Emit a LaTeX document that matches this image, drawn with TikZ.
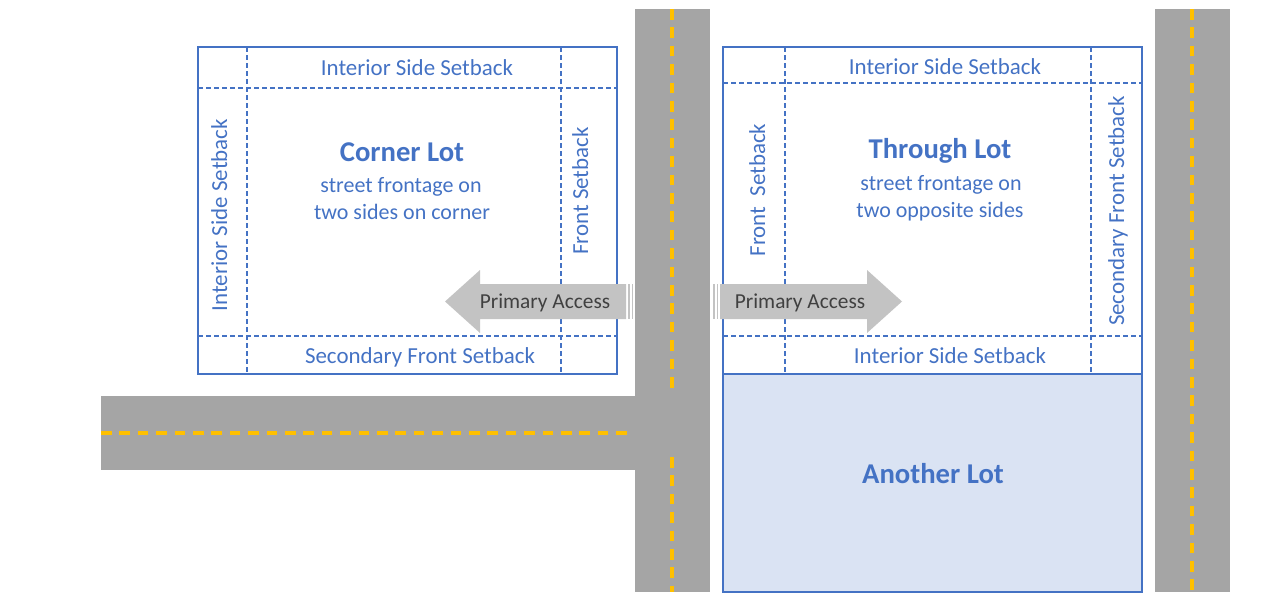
\documentclass[tikz,border=0pt]{standalone}
\usepackage{fontspec}
\setmainfont{Carlito}
\definecolor{lotblue}{HTML}{4472C4}
\definecolor{lotfill}{HTML}{DAE3F3}
\definecolor{roadgray}{HTML}{A5A5A5}
\definecolor{laneyellow}{HTML}{FFC000}
\definecolor{accessgray}{HTML}{C3C3C3}
\definecolor{accesstext}{HTML}{404040}
\begin{document}
\begin{tikzpicture}[x=0.75pt,y=-0.75pt,
    road/.style={fill=roadgray},
    lane/.style={draw=laneyellow,line width=2.3pt,dash pattern=on 8pt off 5.8pt},
    lot/.style={draw=lotblue,line width=2pt},
    setback/.style={draw=lotblue,line width=0.8pt,dash pattern=on 3.6pt off 2.4pt},
    lottext/.style={text=lotblue,inner sep=0pt,anchor=base,font=\fontsize{16.5}{20}\selectfont},
    setbacktext/.style={lottext,font=\fontsize{17.2}{20}\selectfont},
    lotname/.style={lottext,font=\fontsize{21.5}{26}\selectfont\bfseries},
    access/.style={fill=accessgray},
    accesslabel/.style={text=accesstext,inner sep=0pt,anchor=base,font=\fontsize{16}{19}\selectfont}]
  \useasboundingbox (0,0) rectangle (1261,603);
  \fill[road] (635,9) rectangle (710,592);
  \fill[road] (101,396) rectangle (635,470);
  \fill[road] (1155,9) rectangle (1230,592);
  \draw[lane] (672,9) -- (672,395);
  \draw[lane] (672,457) -- (672,592);
  \draw[lane] (101,433) -- (628,433);
  \draw[lane] (1192,9) -- (1192,592);

  \draw[setback] (247,47) -- (247,374);
  \draw[setback] (561,47) -- (561,374);
  \draw[setback] (198,88) -- (617,88);
  \draw[setback] (198,336) -- (617,336);
  \draw[lot] (198,47) rectangle (617,374);

  \draw[setback] (785,47) -- (785,374);
  \draw[setback] (1091,47) -- (1091,374);
  \draw[setback] (723,83) -- (1142,83);
  \draw[setback] (723,336) -- (1142,336);
  \draw[lot,fill=lotfill] (723,374) rectangle (1142,592);
  \draw[lot] (723,47) rectangle (1142,374);

  \node[setbacktext] (cornerTop) at (417,75) {Interior Side Setback};
  \node[setbacktext] (cornerBottom) at (420,363) {Secondary Front Setback};
  \node[setbacktext,rotate=90] (cornerSide) at (227,215) {Interior Side Setback};
  \node[setbacktext,rotate=90] (cornerFront) at (588,191) {Front Setback};
  \node[lotname] (cornerName) at (402,161) {Corner Lot};
  \node[lottext] (cornerLine1) at (401,192) {street frontage on};
  \node[lottext] (cornerLine2) at (402,219) {two sides on corner};

  \node[setbacktext] (throughTop) at (945,74) {Interior Side Setback};
  \node[setbacktext] (throughBottom) at (950,363) {Interior Side Setback};
  \node[setbacktext,rotate=90] (throughFront) at (765,190) {Front\ \ Setback};
  \node[setbacktext,rotate=90] (throughBack) at (1124,211) {Secondary Front Setback};
  \node[lotname] (throughName) at (940,158) {Through Lot};
  \node[lottext] (throughLine1) at (941,190) {street frontage on};
  \node[lottext] (throughLine2) at (940,217) {two opposite sides};

  \node[lotname] (anotherName) at (933,483) {Another Lot};

  \fill[access] (626,284) -- (480,284) -- (480,270) -- (445,301.5) -- (480,333) -- (480,319) -- (626,319) -- cycle;
  \fill[access] (628,284) rectangle (630,319);
  \fill[access] (631.5,284) rectangle (633,319);
  \fill[access] (720,284) -- (867,284) -- (867,270) -- (902,301.5) -- (867,333) -- (867,319) -- (720,319) -- cycle;
  \fill[access] (713,284) rectangle (715,319);
  \fill[access] (716.5,284) rectangle (718,319);
  \node[accesslabel] (accessLeft) at (545,308) {Primary Access};
  \node[accesslabel] (accessRight) at (800,308) {Primary Access};
\end{tikzpicture}
\end{document}
